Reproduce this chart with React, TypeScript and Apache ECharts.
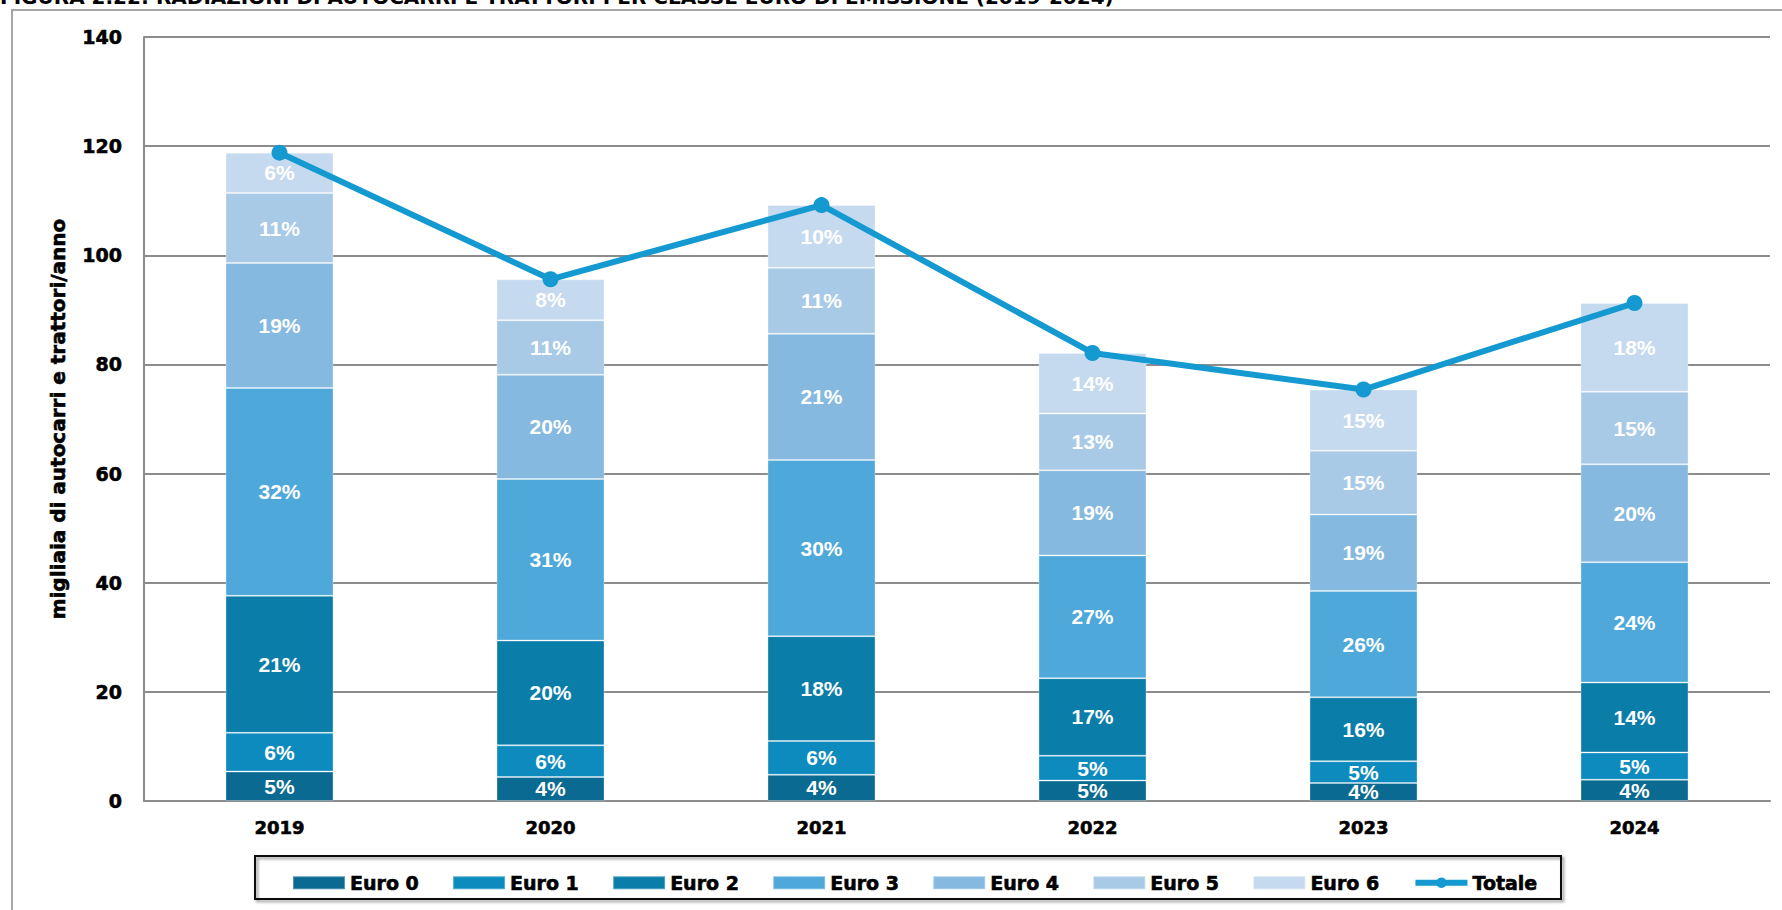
import React, { useEffect, useRef } from "react";
import * as echarts from "echarts";

const years = ["2019", "2020", "2021", "2022", "2023", "2024"];
const seriesNames = ["Euro 0", "Euro 1", "Euro 2", "Euro 3", "Euro 4", "Euro 5", "Euro 6"];
const euro0 = [5.4, 4.4, 4.8, 3.75, 3.3, 3.9];
const euro1 = [7.1, 5.8, 6.2, 4.55, 4.0, 5.0];
const euro2 = [25.1, 19.2, 19.2, 14.2, 11.7, 12.8];
const euro3 = [38.1, 29.6, 32.3, 22.5, 19.5, 22.05];
const euro4 = [22.9, 19.1, 23.1, 15.6, 14.0, 17.95];
const euro5 = [12.8, 10.0, 12.1, 10.4, 11.7, 13.3];
const euro6 = [7.4, 7.5, 11.5, 11.1, 11.2, 16.25];
const totale = [118.8, 95.6, 109.2, 82.1, 75.4, 91.25];

const pct0 = ["5%", "4%", "4%", "5%", "4%", "4%"];
const pct1 = ["6%", "6%", "6%", "5%", "5%", "5%"];
const pct2 = ["21%", "20%", "18%", "17%", "16%", "14%"];
const pct3 = ["32%", "31%", "30%", "27%", "26%", "24%"];
const pct4 = ["19%", "20%", "21%", "19%", "19%", "20%"];
const pct5 = ["11%", "11%", "11%", "13%", "15%", "15%"];
const pct6 = ["6%", "8%", "10%", "14%", "15%", "18%"];

const yTicks = [0, 20, 40, 60, 80, 100, 120, 140];

const colors = ["#0A6A92", "#0E8BBE", "#0B7DA9", "#4EA8DA", "#85B9E0", "#A9CAE6", "#C5DAEE"];
const lineColor = "#1499D0";
const titleText =
  "FIGURA 2.22: RADIAZIONI DI AUTOCARRI E TRATTORI PER CLASSE EURO DI EMISSIONE (2019-2024)";
const yName = "migliaia di autocarri e trattori/anno";

const heavy = "'DejaVu Sans', sans-serif";
const arial = "'Liberation Sans', Arial, sans-serif";

export default function App() {
  const ref = useRef<HTMLDivElement>(null);
  useEffect(() => {
    if (!ref.current) return;
    const chart = echarts.init(ref.current, null, { renderer: "svg" });
    const values = [euro0, euro1, euro2, euro3, euro4, euro5, euro6];
    const pcts = [pct0, pct1, pct2, pct3, pct4, pct5, pct6];
    const barSeries = values.map((vals, i) => ({
      name: seriesNames[i],
      type: "bar",
      stack: "tot",
      barWidth: 108,
      data: vals,
      itemStyle: { color: colors[i], borderColor: "rgba(255,255,255,0.3)", borderWidth: 1 },
      label: {
        show: true,
        position: "inside",
        color: "#ffffff",
        fontFamily: arial,
        fontWeight: "bold",
        fontSize: 21,
        formatter: (p: any) => pcts[i][p.dataIndex],
      },
      z: 2,
    }));
    const heavyText = {
      color: "#000",
      fontFamily: heavy,
      fontWeight: "bold",
      textBorderColor: "#000",
      textBorderWidth: 0.6,
    };
    chart.setOption({
      animation: false,
      grid: { left: 144, right: 12, top: 37, bottom: 109, containLabel: false },
      xAxis: {
        type: "category",
        data: years,
        axisLine: { show: true, lineStyle: { color: "#8c8c8c", width: 2 } },
        axisTick: { show: false },
        axisLabel: { ...heavyText, fontSize: 18, margin: 17 },
      },
      yAxis: {
        type: "value",
        min: yTicks[0],
        max: yTicks[yTicks.length - 1],
        interval: 20,
        name: yName,
        nameLocation: "middle",
        nameGap: 76,
        nameTextStyle: { ...heavyText, fontSize: 20 },
        axisLine: { show: true, lineStyle: { color: "#8c8c8c", width: 2 } },
        axisTick: { show: false },
        splitLine: { show: true, lineStyle: { color: "#8c8c8c", width: 2 } },
        axisLabel: { ...heavyText, fontSize: 19, margin: 22 },
      },
      legend: {
        left: 287,
        top: 868,
        itemWidth: 52,
        itemHeight: 13,
        itemGap: 33,
        data: [
          ...seriesNames.map((n) => ({ name: n, icon: "rect" })),
          {
            name: "Totale",
            lineStyle: { width: 6, color: lineColor },
            itemStyle: { color: lineColor },
          },
        ],
        textStyle: { ...heavyText, fontSize: 19 },
      },
      graphic: [
        {
          type: "rect",
          shape: { x: 12, y: 10, width: 1800, height: 940 },
          style: { fill: "none", stroke: "#a6a6a6", lineWidth: 2 },
          silent: true,
        },
        {
          type: "text",
          x: 0,
          y: 7,
          style: {
            text: titleText,
            fill: "#000",
            font: "bold 20px 'DejaVu Sans', sans-serif",
            verticalAlign: "bottom",
            align: "left",
          },
          silent: true,
        },
        {
          type: "rect",
          shape: { x: 255, y: 856, width: 1306, height: 43 },
          style: {
            fill: "none",
            stroke: "#111",
            lineWidth: 2,
            shadowColor: "rgba(0,0,0,0.45)",
            shadowBlur: 3,
            shadowOffsetX: 2,
            shadowOffsetY: 2,
          },
          silent: true,
          z: -1,
        },
      ],
      series: [
        ...barSeries,
        {
          name: "Totale",
          type: "line",
          data: totale,
          symbol: "circle",
          symbolSize: 16,
          lineStyle: { color: lineColor, width: 6 },
          itemStyle: { color: lineColor },
          z: 5,
        },
      ],
    });
    return () => chart.dispose();
  }, []);
  return (
    <div
      ref={ref}
      style={{ position: "fixed", left: 0, top: 0, width: 1782, height: 910, background: "#fff" }}
    />
  );
}
